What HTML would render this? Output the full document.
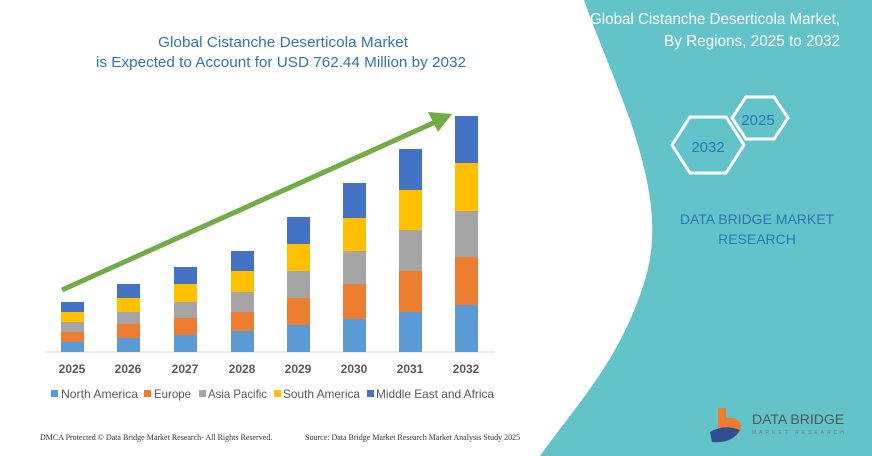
<!DOCTYPE html>
<html><head><meta charset="utf-8"><style>
body{margin:0;width:872px;height:456px;overflow:hidden;background:#fff;font-family:"Liberation Sans",sans-serif}
</style></head><body>
<svg width="872" height="456" xmlns="http://www.w3.org/2000/svg" style="position:absolute;left:0;top:0">
<path d="M584,0 L872,0 L872,456 L540,456 C580,400 620,360 645,280 C660,230 650,180 630,120 C612,70 596,35 584,0 Z" fill="#62c3c8"/>
<text x="840" y="24" text-anchor="end" fill="#fff" font-size="16" textLength="250" lengthAdjust="spacingAndGlyphs">Global Cistanche Deserticola Market,</text>
<text x="840" y="46" text-anchor="end" fill="#fff" font-size="16" textLength="176" lengthAdjust="spacingAndGlyphs">By Regions, 2025 to 2032</text>
<polygon points="746,97 774,97 788,118 774,139 746,139 732,118" fill="none" stroke="#fff" stroke-width="3"/>
<polygon points="690,117 726,117 744,145 726,173 690,173 672,145" fill="none" stroke="#fff" stroke-width="3"/>
<text x="758" y="125" text-anchor="middle" fill="#2e75b6" font-size="15">2025</text>
<text x="708" y="152" text-anchor="middle" fill="#2e75b6" font-size="15">2032</text>
<text x="757" y="224" text-anchor="middle" fill="#2e75b6" font-size="14">DATA BRIDGE MARKET</text>
<text x="757" y="244" text-anchor="middle" fill="#2e75b6" font-size="14">RESEARCH</text>
<path d="M718,408 h8 v10 h6 a9,9 0 0 1 0,18 h-14 Z" fill="#ed7d31"/>
<path d="M710,432 q14,-8 30,-2 q-8,14 -28,12 Z" fill="#2f4f8f"/>
<text x="752" y="424" fill="#555" font-size="14">DATA BRIDGE</text>
<text x="752" y="434" fill="#777" font-size="5" letter-spacing="3">MARKET RESEARCH</text>
<text x="283" y="47" text-anchor="middle" fill="#2e75b6" font-size="15" textLength="250" lengthAdjust="spacingAndGlyphs">Global Cistanche Deserticola Market</text>
<text x="281" y="67" text-anchor="middle" fill="#2e75b6" font-size="15" textLength="370" lengthAdjust="spacingAndGlyphs">is Expected to Account for USD 762.44 Million by 2032</text>
<line x1="45" y1="352" x2="495" y2="352" stroke="#d9d9d9" stroke-width="1"/>
<g id="bars"></g>
<line x1="62" y1="290" x2="440" y2="120" stroke="#70ad47" stroke-width="5"/>
<polygon points="452,114 428,112 438,132" fill="#70ad47"/>
<g font-size="12" font-weight="bold" fill="#595959" text-anchor="middle">
<text x="72" y="373">2025</text><text x="128" y="373">2026</text><text x="185" y="373">2027</text><text x="242" y="373">2028</text><text x="298" y="373">2029</text><text x="354" y="373">2030</text><text x="410" y="373">2031</text><text x="466" y="373">2032</text>
</g>
<g font-size="12" fill="#595959">
<rect x="51" y="390" width="7" height="7" fill="#5b9bd5"/><text x="61" y="398" textLength="77" lengthAdjust="spacingAndGlyphs">North America</text>
<rect x="144" y="390" width="7" height="7" fill="#ed7d31"/><text x="154" y="398" textLength="37" lengthAdjust="spacingAndGlyphs">Europe</text>
<rect x="199" y="390" width="7" height="7" fill="#a5a5a5"/><text x="208" y="398" textLength="59" lengthAdjust="spacingAndGlyphs">Asia Pacific</text>
<rect x="274" y="390" width="7" height="7" fill="#ffc000"/><text x="283" y="398" textLength="77" lengthAdjust="spacingAndGlyphs">South America</text>
<rect x="367" y="390" width="7" height="7" fill="#4472c4"/><text x="376" y="398" textLength="118" lengthAdjust="spacingAndGlyphs">Middle East and Africa</text>
</g>
<text x="40" y="440" font-family="Liberation Serif,serif" font-size="8" fill="#333">DMCA Protected © Data Bridge Market Research-  All Rights Reserved.</text>
<text x="305" y="440" font-family="Liberation Serif,serif" font-size="8" fill="#333">Source: Data Bridge Market Research  Market Analysis Study 2025</text>
</svg>
<script>
var d=[[61,342,332,322,312,302],[117,338,324,312,298,284],[174,335,318,302,284,267],[231,331,312,292,271,251],[287,325,298,271,244,217],[343,319,284,251,218,183],[399,312,271,230,190,149],[455,305,257,211,163,116]];
var c=["#5b9bd5","#ed7d31","#a5a5a5","#ffc000","#4472c4"];var s="";
d.forEach(function(b){var prev=352;for(var i=0;i<5;i++){s+='<rect x="'+b[0]+'" y="'+b[i+1]+'" width="23" height="'+(prev-b[i+1])+'" fill="'+c[i]+'"/>';prev=b[i+1];}});
document.getElementById("bars").innerHTML=s;
</script>
</body></html>
